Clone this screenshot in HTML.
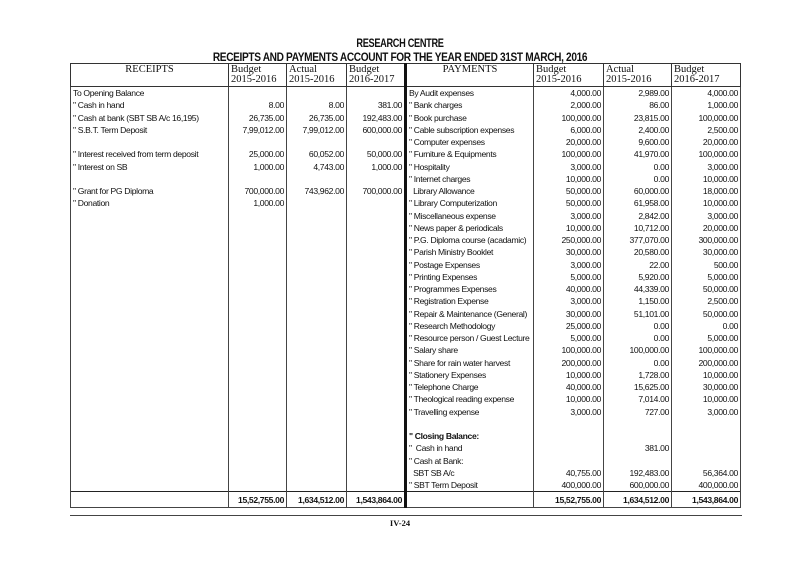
<!DOCTYPE html>
<html><head><meta charset="utf-8"><style>
body{margin:0;width:800px;height:565px;background:#fff;position:relative;overflow:hidden;font-family:"Liberation Sans",sans-serif;color:#111}
.t1{position:absolute;left:0;width:800px;text-align:center;font-weight:bold;font-size:11.5px;letter-spacing:-0.4px}
table{position:absolute;left:70px;top:63px;border-collapse:collapse;table-layout:fixed;width:670px;font-size:8.6px;letter-spacing:-0.35px}
td,th{padding:0 2px;height:12.25px;line-height:12.25px;white-space:nowrap;overflow:hidden;border-left:1px solid #444;border-right:1px solid #444}
th{font-family:"Liberation Serif",serif;font-weight:normal;font-size:10.5px;line-height:10px;height:21px;text-align:left;vertical-align:top;padding-top:1px;border:1px solid #333;letter-spacing:0}
th.c{text-align:center}
td.n{text-align:right}
.tk{border-left:3px solid #111}
tr.tot td{font-weight:bold;height:15px;border-top:1.5px solid #222;border-bottom:1.5px solid #444}
</style></head><body>
<div class="t1" style="top:38px;transform:scaleX(0.8)">RESEARCH CENTRE</div>
<div class="t1" style="top:52px;transform:scaleX(0.88)">RECEIPTS AND PAYMENTS ACCOUNT FOR THE YEAR ENDED 31ST MARCH, 2016</div>
<table>
<colgroup><col style="width:158px"><col style="width:58px"><col style="width:60px"><col style="width:59px"><col style="width:128px"><col style="width:70px"><col style="width:68px"><col style="width:69px"></colgroup>
<tr><th class="c">RECEIPTS</th><th>Budget<br>2015-2016</th><th>Actual<br>2015-2016</th><th>Budget<br>2016-2017</th><th class="c tk">PAYMENTS</th><th>Budget<br>2015-2016</th><th>Actual<br>2015-2016</th><th>Budget<br>2016-2017</th></tr>
<tr><td>To Opening Balance</td><td class="n"></td><td class="n"></td><td class="n"></td><td class="tk">By Audit expenses</td><td class="n">4,000.00</td><td class="n">2,989.00</td><td class="n">4,000.00</td></tr>
<tr><td>" Cash in hand</td><td class="n">8.00</td><td class="n">8.00</td><td class="n">381.00</td><td class="tk">" Bank charges</td><td class="n">2,000.00</td><td class="n">86.00</td><td class="n">1,000.00</td></tr>
<tr><td>" Cash at bank (SBT SB A/c 16,195)</td><td class="n">26,735.00</td><td class="n">26,735.00</td><td class="n">192,483.00</td><td class="tk">" Book purchase</td><td class="n">100,000.00</td><td class="n">23,815.00</td><td class="n">100,000.00</td></tr>
<tr><td>" S.B.T. Term Deposit</td><td class="n">7,99,012.00</td><td class="n">7,99,012.00</td><td class="n">600,000.00</td><td class="tk">" Cable subscription expenses</td><td class="n">6,000.00</td><td class="n">2,400.00</td><td class="n">2,500.00</td></tr>
<tr><td></td><td></td><td></td><td></td><td class="tk">" Computer expenses</td><td class="n">20,000.00</td><td class="n">9,600.00</td><td class="n">20,000.00</td></tr>
<tr><td>" Interest received from term deposit</td><td class="n">25,000.00</td><td class="n">60,052.00</td><td class="n">50,000.00</td><td class="tk">" Furniture &amp; Equipments</td><td class="n">100,000.00</td><td class="n">41,970.00</td><td class="n">100,000.00</td></tr>
<tr><td>" Interest on SB</td><td class="n">1,000.00</td><td class="n">4,743.00</td><td class="n">1,000.00</td><td class="tk">" Hospitality</td><td class="n">3,000.00</td><td class="n">0.00</td><td class="n">3,000.00</td></tr>
<tr><td></td><td></td><td></td><td></td><td class="tk">" Internet charges</td><td class="n">10,000.00</td><td class="n">0.00</td><td class="n">10,000.00</td></tr>
<tr><td>" Grant for PG Diploma</td><td class="n">700,000.00</td><td class="n">743,962.00</td><td class="n">700,000.00</td><td class="tk">&nbsp; Library Allowance</td><td class="n">50,000.00</td><td class="n">60,000.00</td><td class="n">18,000.00</td></tr>
<tr><td>" Donation</td><td class="n">1,000.00</td><td></td><td></td><td class="tk">" Library Computerization</td><td class="n">50,000.00</td><td class="n">61,958.00</td><td class="n">10,000.00</td></tr>
<tr><td></td><td></td><td></td><td></td><td class="tk">" Miscellaneous expense</td><td class="n">3,000.00</td><td class="n">2,842.00</td><td class="n">3,000.00</td></tr>
<tr><td></td><td></td><td></td><td></td><td class="tk">" News paper &amp; periodicals</td><td class="n">10,000.00</td><td class="n">10,712.00</td><td class="n">20,000.00</td></tr>
<tr><td></td><td></td><td></td><td></td><td class="tk">" P.G. Diploma course (acadamic)</td><td class="n">250,000.00</td><td class="n">377,070.00</td><td class="n">300,000.00</td></tr>
<tr><td></td><td></td><td></td><td></td><td class="tk">" Parish Ministry Booklet</td><td class="n">30,000.00</td><td class="n">20,580.00</td><td class="n">30,000.00</td></tr>
<tr><td></td><td></td><td></td><td></td><td class="tk">" Postage Expenses</td><td class="n">3,000.00</td><td class="n">22.00</td><td class="n">500.00</td></tr>
<tr><td></td><td></td><td></td><td></td><td class="tk">" Printing Expenses</td><td class="n">5,000.00</td><td class="n">5,920.00</td><td class="n">5,000.00</td></tr>
<tr><td></td><td></td><td></td><td></td><td class="tk">" Programmes Expenses</td><td class="n">40,000.00</td><td class="n">44,339.00</td><td class="n">50,000.00</td></tr>
<tr><td></td><td></td><td></td><td></td><td class="tk">" Registration Expense</td><td class="n">3,000.00</td><td class="n">1,150.00</td><td class="n">2,500.00</td></tr>
<tr><td></td><td></td><td></td><td></td><td class="tk">" Repair &amp; Maintenance (General)</td><td class="n">30,000.00</td><td class="n">51,101.00</td><td class="n">50,000.00</td></tr>
<tr><td></td><td></td><td></td><td></td><td class="tk">" Research Methodology</td><td class="n">25,000.00</td><td class="n">0.00</td><td class="n">0.00</td></tr>
<tr><td></td><td></td><td></td><td></td><td class="tk">" Resource person / Guest Lecture</td><td class="n">5,000.00</td><td class="n">0.00</td><td class="n">5,000.00</td></tr>
<tr><td></td><td></td><td></td><td></td><td class="tk">" Salary share</td><td class="n">100,000.00</td><td class="n">100,000.00</td><td class="n">100,000.00</td></tr>
<tr><td></td><td></td><td></td><td></td><td class="tk">" Share for rain water harvest</td><td class="n">200,000.00</td><td class="n">0.00</td><td class="n">200,000.00</td></tr>
<tr><td></td><td></td><td></td><td></td><td class="tk">" Stationery Expenses</td><td class="n">10,000.00</td><td class="n">1,728.00</td><td class="n">10,000.00</td></tr>
<tr><td></td><td></td><td></td><td></td><td class="tk">" Telephone Charge</td><td class="n">40,000.00</td><td class="n">15,625.00</td><td class="n">30,000.00</td></tr>
<tr><td></td><td></td><td></td><td></td><td class="tk">" Theological reading expense</td><td class="n">10,000.00</td><td class="n">7,014.00</td><td class="n">10,000.00</td></tr>
<tr><td></td><td></td><td></td><td></td><td class="tk">" Travelling expense</td><td class="n">3,000.00</td><td class="n">727.00</td><td class="n">3,000.00</td></tr>
<tr><td></td><td></td><td></td><td></td><td class="tk"></td><td></td><td></td><td></td></tr>
<tr><td></td><td></td><td></td><td></td><td class="tk"><b>" Closing Balance:</b></td><td></td><td></td><td></td></tr>
<tr><td></td><td></td><td></td><td></td><td class="tk">"&nbsp; Cash in hand</td><td></td><td class="n">381.00</td><td></td></tr>
<tr><td></td><td></td><td></td><td></td><td class="tk">" Cash at Bank:</td><td></td><td></td><td></td></tr>
<tr><td></td><td></td><td></td><td></td><td class="tk">&nbsp; SBT SB A/c</td><td class="n">40,755.00</td><td class="n">192,483.00</td><td class="n">56,364.00</td></tr>
<tr><td></td><td></td><td></td><td></td><td class="tk">" SBT Term Deposit</td><td class="n">400,000.00</td><td class="n">600,000.00</td><td class="n">400,000.00</td></tr>
<tr class="tot"><td></td><td class="n">15,52,755.00</td><td class="n">1,634,512.00</td><td class="n">1,543,864.00</td><td class="tk"></td><td class="n">15,52,755.00</td><td class="n">1,634,512.00</td><td class="n">1,543,864.00</td></tr>
</table>
<div style="position:absolute;left:70px;top:515px;width:672px;border-top:1px solid #444"></div>
<div style="position:absolute;left:0;width:800px;top:518px;text-align:center;font-family:'Liberation Serif',serif;font-weight:bold;font-size:8.5px">IV-24</div>
</body></html>
